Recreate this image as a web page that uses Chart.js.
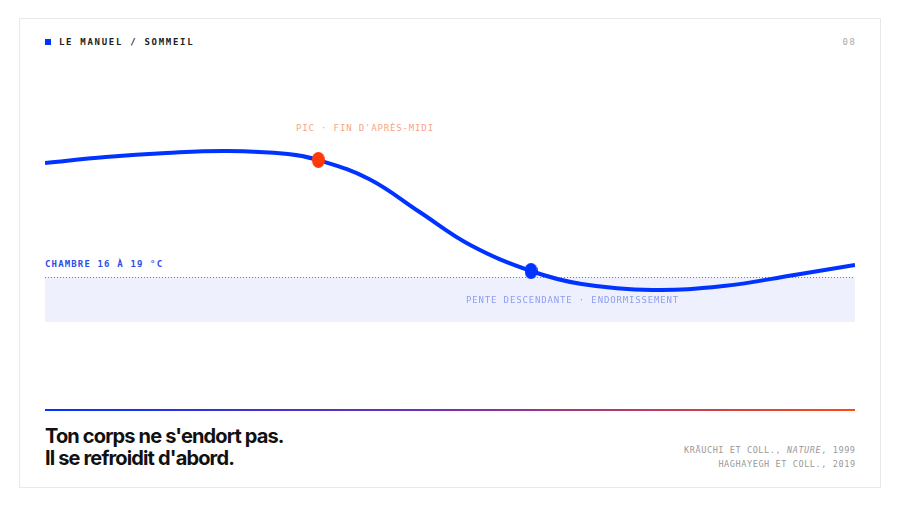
<!DOCTYPE html>
<html lang="fr">
<head>
<meta charset="UTF-8">
<title>Le manuel / Sommeil</title>
<script src="https://cdn.jsdelivr.net/npm/chart.js"></script>
<style>
    html, body { margin: 0; padding: 0; background: #fff; }
    body { width: 900px; height: 506px; position: relative; overflow: hidden; }
    .card {
        position: absolute; left: 19px; top: 18px; width: 862px; height: 470px;
        border: 1px solid #e9e9e9; box-sizing: border-box; background: #fff;
    }
    .mono { font-family: "DejaVu Sans Mono", monospace; position: absolute; white-space: nowrap; }
    .head { left: 59px; top: 37px; font-size: 9px; letter-spacing: 1.7px; color: #222; font-weight: bold; }
    .sq { position: absolute; left: 45px; top: 39px; width: 6px; height: 6px; background: #0033ff; }
    .page { right: 45px; top: 37px; font-size: 9px; letter-spacing: 1.6px; color: #aaa; margin-right: -1.6px; }
    .lbl-peak { left: 296px; top: 123px; font-size: 9px; letter-spacing: 0.85px; color: #f7a488; }
    .lbl-room { left: 45px; top: 259px; font-size: 9px; letter-spacing: 1.15px; color: #2d4de8; font-weight: bold; }
    .lbl-slope { left: 466px; top: 295px; font-size: 9px; letter-spacing: 0.85px; color: #8c9df2; }
    #wrap { position: absolute; left: 45px; top: 100px; width: 810px; height: 240px; }
    .rule {
        position: absolute; left: 45px; top: 409px; width: 810px; height: 2px;
        background: linear-gradient(to right, #0033ff, #7a2fb0 50%, #ff4a10);
    }
    .title {
        position: absolute; left: 45px; top: 425px; font-family: Inter, sans-serif; font-weight: 700;
        font-size: 20px; line-height: 22px; letter-spacing: -0.85px; color: #111;
    }
    .src { right: 45px; top: 443px; font-size: 8.5px; line-height: 14px; letter-spacing: 0.6px; color: #999; text-align: right; margin-right: -0.6px; }
</style>
</head>
<body>
<div class="card"></div>
<div class="sq"></div>
<div class="mono head">LE MANUEL / SOMMEIL</div>
<div class="mono page">08</div>
<div class="mono lbl-peak">PIC · FIN D'APRÈS-MIDI</div>
<div class="mono lbl-room">CHAMBRE 16 À 19 °C</div>
<div id="wrap"><canvas id="tempChart"></canvas></div>
<div class="mono lbl-slope">PENTE DESCENDANTE · ENDORMISSEMENT</div>
<div class="rule"></div>
<div class="title">Ton corps ne s'endort pas.<br>Il se refroidit d'abord.</div>
<div class="mono src">KRÄUCHI ET COLL., <i>NATURE</i>, 1999<br>HAGHAYEGH ET COLL., 2019</div>

<script>
    // heure de la journée (10h -> 6h le lendemain) et température corporelle (indice relatif)
    const hours = [10, 11.5, 13, 14.5, 16, 16.75, 18, 19.25, 20.5, 22, 23.25, 25, 26.75, 28.5, 30];
    const bodyTemp = [177, 183, 187, 189, 186, 180, 161, 128, 95, 69, 56, 50, 54, 65, 75];
    const peakIndex = 5;   // pic, fin d'après-midi
    const sleepIndex = 9;  // endormissement
    const roomBand = [18, 63]; // zone chambre

    // petit point ovale
    function ovalDot(color) {
        const c = document.createElement('canvas');
        c.width = 13; c.height = 16;
        const g = c.getContext('2d');
        g.fillStyle = color;
        g.beginPath();
        g.ellipse(6.5, 8, 6.5, 8, 0, 0, Math.PI * 2);
        g.fill();
        return c;
    }
    const redDot = ovalDot('#ff3a0a');
    const blueDot = ovalDot('#0033ff');

    const bandPlugin = {
        id: 'band',
        beforeDatasetsDraw(chart) {
            const { ctx, chartArea, scales } = chart;
            const top = scales.y.getPixelForValue(roomBand[1]);
            const bottom = scales.y.getPixelForValue(roomBand[0]);
            ctx.save();
            ctx.fillStyle = '#eef1fd';
            ctx.fillRect(chartArea.left, top, chartArea.right - chartArea.left, bottom - top);
            ctx.strokeStyle = '#5f78ea';
            ctx.lineWidth = 1;
            ctx.setLineDash([1, 2]);
            ctx.beginPath();
            ctx.moveTo(chartArea.left, Math.round(top) + 0.5);
            ctx.lineTo(chartArea.right, Math.round(top) + 0.5);
            ctx.stroke();
            ctx.restore();
        }
    };

    new Chart(document.getElementById('tempChart'), {
        type: 'line',
        data: {
            datasets: [{
                data: hours.map((h, i) => ({ x: h, y: bodyTemp[i] })),
                borderColor: '#0033ff',
                borderWidth: 4,
                tension: 0.4,
                clip: false,
                pointRadius: ctx => (ctx.dataIndex === peakIndex || ctx.dataIndex === sleepIndex) ? 7 : 0,
                pointStyle: ctx => ctx.dataIndex === peakIndex ? redDot : (ctx.dataIndex === sleepIndex ? blueDot : 'circle'),
                pointHoverRadius: 0
            }]
        },
        options: {
            responsive: true,
            maintainAspectRatio: false,
            animation: false,
            layout: { padding: 0 },
            plugins: { legend: { display: false }, tooltip: { enabled: false } },
            scales: {
                x: { type: 'linear', min: 10, max: 30, display: false },
                y: { min: 0, max: 240, display: false }
            }
        },
        plugins: [bandPlugin]
    });
</script>
</body>
</html>
